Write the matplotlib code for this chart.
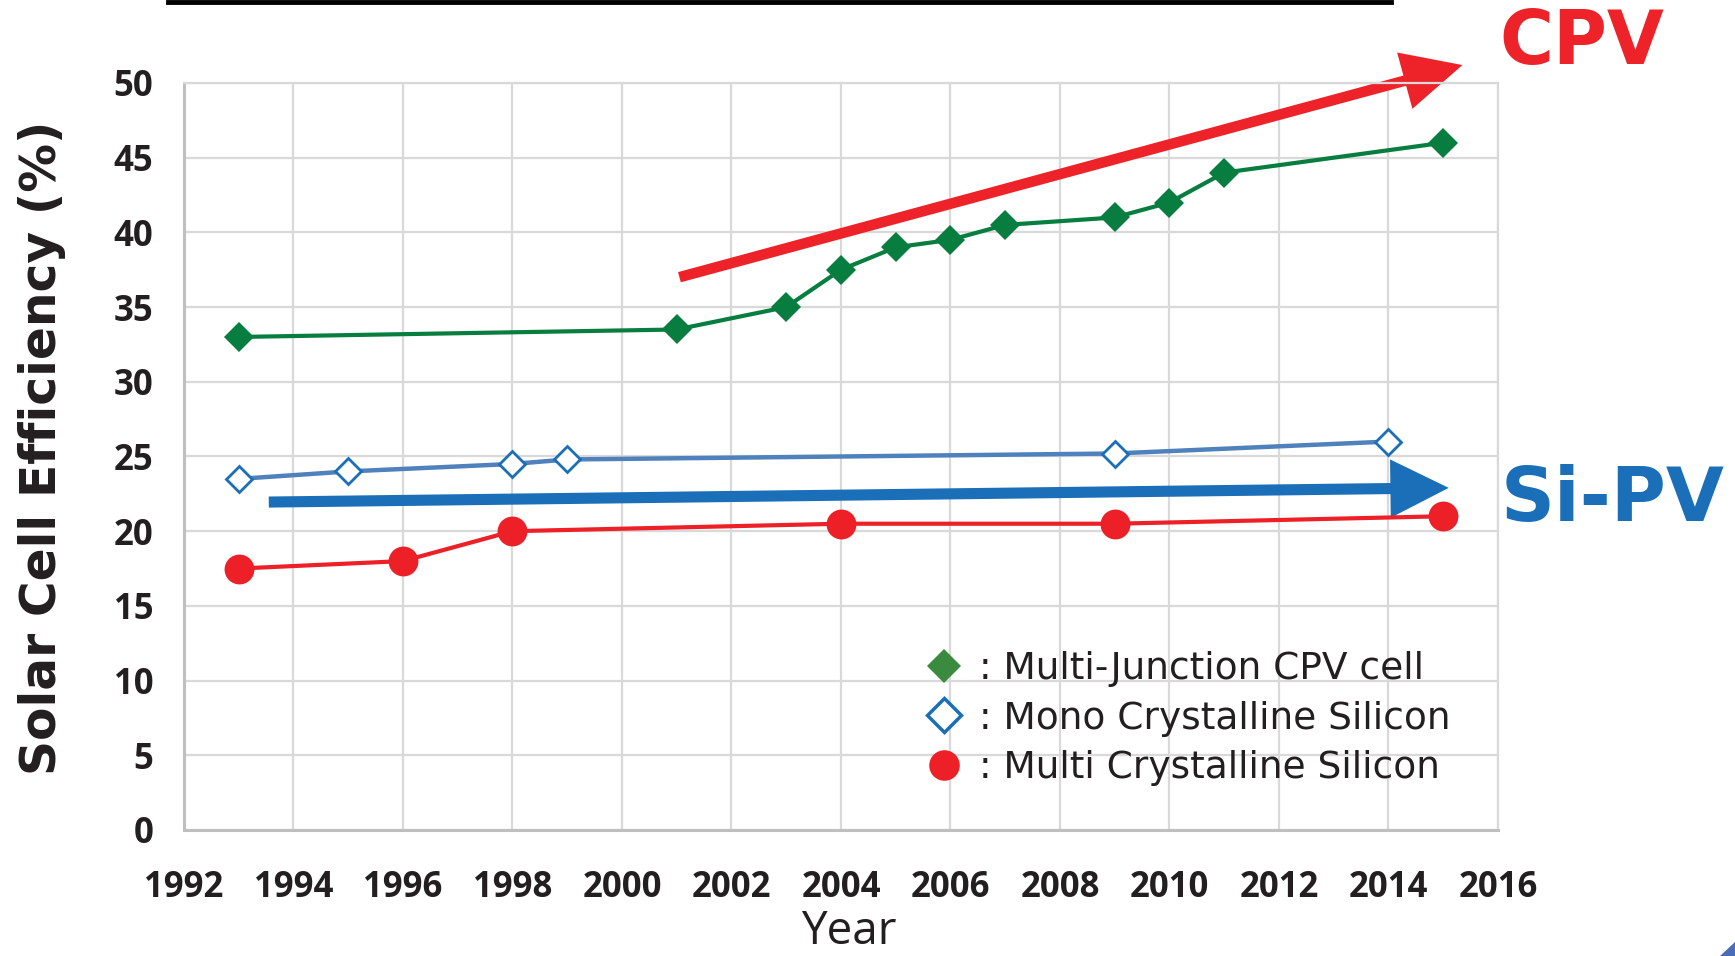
import matplotlib
matplotlib.use("Agg")
import matplotlib.pyplot as plt
from matplotlib.lines import Line2D
from matplotlib.patches import Polygon

# data
mj_years = [1993, 2001, 2003, 2004, 2005, 2006, 2007, 2009, 2010, 2011, 2015]
mj_eff = [33.0, 33.5, 35.0, 37.5, 39.0, 39.5, 40.5, 41.0, 42.0, 44.0, 46.0]

mono_years = [1993, 1995, 1998, 1999, 2009, 2014]
mono_eff = [23.5, 24.0, 24.5, 24.8, 25.2, 26.0]

multi_years = [1993, 1996, 1998, 2004, 2009, 2015]
multi_eff = [17.5, 18.0, 20.0, 20.5, 20.5, 21.0]

# trend arrows (start, end) in data units
cpv_arrow = [(2001.05, 37.0), (2015.35, 51.2)]
si_arrow = [(1993.55, 21.95), (2015.1, 22.9)]

labels = [": Multi-Junction CPV cell", ": Mono Crystalline Silicon",
          ": Multi Crystalline Silicon"]
x_ticks = list(range(1992, 2017, 2))
y_ticks = list(range(0, 51, 5))

green = "#077e3f"
blue_line = "#4f81bd"
blue_mk = "#1a6fb8"
red = "#ed2027"
grid_c = "#d9d9d9"
txt_c = "#231f20"

fig = plt.figure(figsize=(17.35, 9.56), dpi=100)
ax = fig.add_axes([0.106, 0.1318, 0.7574, 0.7814])

ax.set_xlim(1992, 2016)
ax.set_ylim(0, 50)
ax.set_xticks(x_ticks)
ax.set_yticks(y_ticks)
ax.grid(True, color=grid_c, lw=1.6, zorder=0)
ax.set_axisbelow(True)
ax.tick_params(length=0, labelcolor=txt_c)
ax.tick_params(axis="x", pad=29)
ax.tick_params(axis="y", pad=22)
for lab in ax.get_xticklabels() + ax.get_yticklabels():
    lab.set_fontfamily("Open Sans")
    lab.set_fontweight("bold")
    lab.set_fontsize(25)
for s in ["top", "right"]:
    ax.spines[s].set_color(grid_c)
    ax.spines[s].set_linewidth(1.6)
for s in ["left", "bottom"]:
    ax.spines[s].set_color("#bfbfbf")
    ax.spines[s].set_linewidth(2.2)

# arrows behind the series
ax.annotate("", xy=cpv_arrow[1], xytext=cpv_arrow[0],
            arrowprops=dict(arrowstyle="simple,head_length=43,head_width=42,tail_width=7.6",
                            mutation_scale=1, color="#ee2229", lw=0,
                            shrinkA=0, shrinkB=0),
            annotation_clip=False, zorder=2)
ax.annotate("", xy=si_arrow[1], xytext=si_arrow[0],
            arrowprops=dict(arrowstyle="simple,head_length=42,head_width=42,tail_width=8",
                            mutation_scale=1, color=blue_mk, lw=0,
                            shrinkA=0, shrinkB=0),
            annotation_clip=False, zorder=2)

ax.plot(mj_years, mj_eff, color=green, lw=3, marker="D", ms=15,
        mfc=green, mec=green, mew=0, zorder=3)
ax.plot(mono_years, mono_eff, color=blue_line, lw=3.2, marker="D", ms=13.5,
        mfc="white", mec=blue_mk, mew=2, zorder=3)
ax.plot(multi_years, multi_eff, color=red, lw=3, marker="o", ms=21.5,
        mfc=red, mec=red, mew=0, zorder=3)

ax.text(1.064, 1.053, "CPV", transform=ax.transAxes, color="#ee2229",
        fontsize=53, fontweight="bold", ha="center", va="center")
ax.text(1.087, 0.441, "Si-PV", transform=ax.transAxes, color=blue_mk,
        fontsize=54, fontweight="bold", ha="center", va="center")

handles = [
    Line2D([], [], ls="none", marker="D", ms=17, mfc="#3a8a3f", mec="#3a8a3f", mew=0),
    Line2D([], [], ls="none", marker="D", ms=17.5, mfc="white", mec=blue_mk, mew=2.5),
    Line2D([], [], ls="none", marker="o", ms=22, mfc=red, mec=red, mew=0),
]
leg = ax.legend(handles, labels, loc="upper left", bbox_to_anchor=(0.564, 0.240),
                frameon=False, fontsize=27, borderpad=0, borderaxespad=0,
                handlelength=1.0, handletextpad=0.45, labelspacing=0.37)
for t in leg.get_texts():
    t.set_color(txt_c)

ax.set_ylabel("Solar Cell Efficiency (%)", fontsize=35, fontweight="bold", color=txt_c)
ax.yaxis.set_label_coords(-0.090, 0.511)
ax.set_xlabel("Year", fontsize=33, fontfamily="Open Sans", color=txt_c)
ax.xaxis.set_label_coords(0.506, -0.106)

# black rule at the top edge and the small corner mark at bottom right
fig.add_artist(Line2D([168 / 1735, 1391 / 1735], [0.998, 0.998],
                      transform=fig.transFigure, color="black", lw=3.5))
fig.add_artist(Polygon([[1720 / 1735, 0], [1, 0], [1, 14 / 956]], closed=True,
                       transform=fig.transFigure, color="#4a6db4", lw=0))

fig.savefig("out.png", dpi=100)
plt.close(fig)
